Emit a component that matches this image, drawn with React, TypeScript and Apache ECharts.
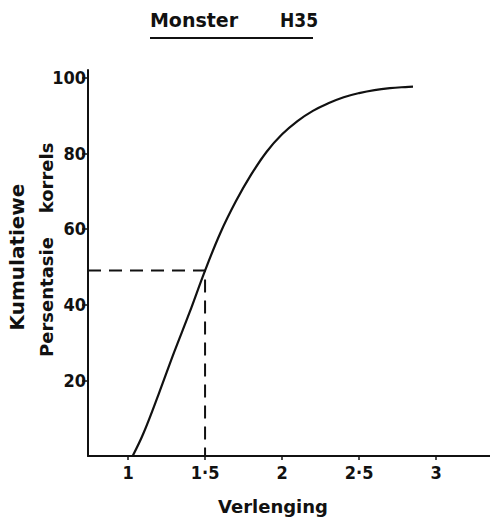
import React, { useEffect, useRef } from "react";
import * as echarts from "echarts";

const verlenging = [1.03, 1.1, 1.2, 1.3, 1.4, 1.5, 1.6, 1.7, 1.8, 1.9, 2.0, 2.1, 2.2, 2.3, 2.4, 2.5, 2.6, 2.7, 2.8, 2.85];
const persentasie = [0, 6, 16.5, 27.5, 38, 49, 59, 67.3, 74.4, 80.4, 85, 88.5, 91.2, 93.2, 94.8, 95.9, 96.7, 97.2, 97.5, 97.6];
const xTicks = [1, 1.5, 2, 2.5, 3];
const yTicks = [20, 40, 60, 80, 100];
const guideX = 1.5;
const guideY = 49;
const xMin = 0.74;
const xMax = 3.35;
const yMin = 0;
const yMax = 102;

const INK = "#111";
const TICK_FONT = "'Liberation Sans Narrow', 'DejaVu Sans Condensed', sans-serif";
const TEXT_FONT = "'DejaVu Sans', sans-serif";

export default function App() {
  const ref = useRef<HTMLDivElement>(null);
  useEffect(() => {
    if (!ref.current) return;
    const chart = echarts.init(ref.current, undefined, { renderer: "svg" });
    const curve = verlenging.map((x, i) => [x, persentasie[i]]);
    const guide = [
      [xMin, guideY],
      [guideX, guideY],
      [guideX, yMin],
    ];
    chart.setOption({
      animation: false,
      backgroundColor: "#fff",
      grid: { left: 88, right: 0, top: 70, bottom: 67 },
      xAxis: {
        type: "value",
        min: xMin,
        max: xMax,
        splitLine: { show: false },
        axisLine: { onZero: false, lineStyle: { color: INK, width: 2 } },
        axisTick: { show: true, length: 4, customValues: xTicks, lineStyle: { color: INK, width: 1.5 } },
        axisLabel: {
          customValues: xTicks,
          margin: 7,
          color: INK,
          fontFamily: TICK_FONT,
          fontWeight: "bold",
          fontSize: 18,
          formatter: (v: number) => String(v).replace(".", "·"),
        },
      },
      yAxis: {
        type: "value",
        min: yMin,
        max: yMax,
        splitLine: { show: false },
        axisLine: { lineStyle: { color: INK, width: 2 } },
        axisTick: { show: true, length: 6, customValues: yTicks, lineStyle: { color: INK, width: 1.5 } },
        axisLabel: {
          customValues: yTicks,
          margin: 2,
          color: INK,
          fontFamily: TICK_FONT,
          fontWeight: "bold",
          fontSize: 18,
        },
      },
      graphic: [
        {
          type: "text",
          x: 194,
          y: 20,
          style: { text: "Monster", font: `bold 19px ${TEXT_FONT}`, fill: INK, align: "center", verticalAlign: "middle" },
        },
        {
          type: "text",
          x: 299,
          y: 20,
          style: { text: "H35", font: `bold 19px 'DejaVu Sans Condensed', sans-serif`, fill: INK, align: "center", verticalAlign: "middle" },
        },
        {
          type: "line",
          shape: { x1: 150, y1: 38, x2: 313, y2: 38 },
          style: { stroke: INK, lineWidth: 2 },
        },
        {
          type: "text",
          x: 17,
          y: 257,
          rotation: Math.PI / 2,
          style: { text: "Kumulatiewe", font: `bold 20px ${TEXT_FONT}`, fill: INK, align: "center", verticalAlign: "middle" },
        },
        {
          type: "text",
          x: 46,
          y: 297,
          rotation: Math.PI / 2,
          style: { text: "Persentasie", font: `bold 18px ${TEXT_FONT}`, fill: INK, align: "center", verticalAlign: "middle" },
        },
        {
          type: "text",
          x: 46,
          y: 178,
          rotation: Math.PI / 2,
          style: { text: "korrels", font: `bold 18px ${TEXT_FONT}`, fill: INK, align: "center", verticalAlign: "middle" },
        },
        {
          type: "text",
          x: 273,
          y: 506,
          style: { text: "Verlenging", font: `bold 18px ${TEXT_FONT}`, fill: INK, align: "center", verticalAlign: "middle" },
        },
      ],
      series: [
        {
          type: "line",
          data: curve,
          smooth: 0.4,
          showSymbol: false,
          lineStyle: { color: INK, width: 2.2 },
          silent: true,
        },
        {
          type: "line",
          data: guide,
          showSymbol: false,
          lineStyle: { color: INK, width: 2, type: [13, 8] },
          silent: true,
        },
      ],
    });
    return () => chart.dispose();
  }, []);
  return <div ref={ref} style={{ position: "fixed", left: 0, top: 0, width: 490, height: 523 }} />;
}
